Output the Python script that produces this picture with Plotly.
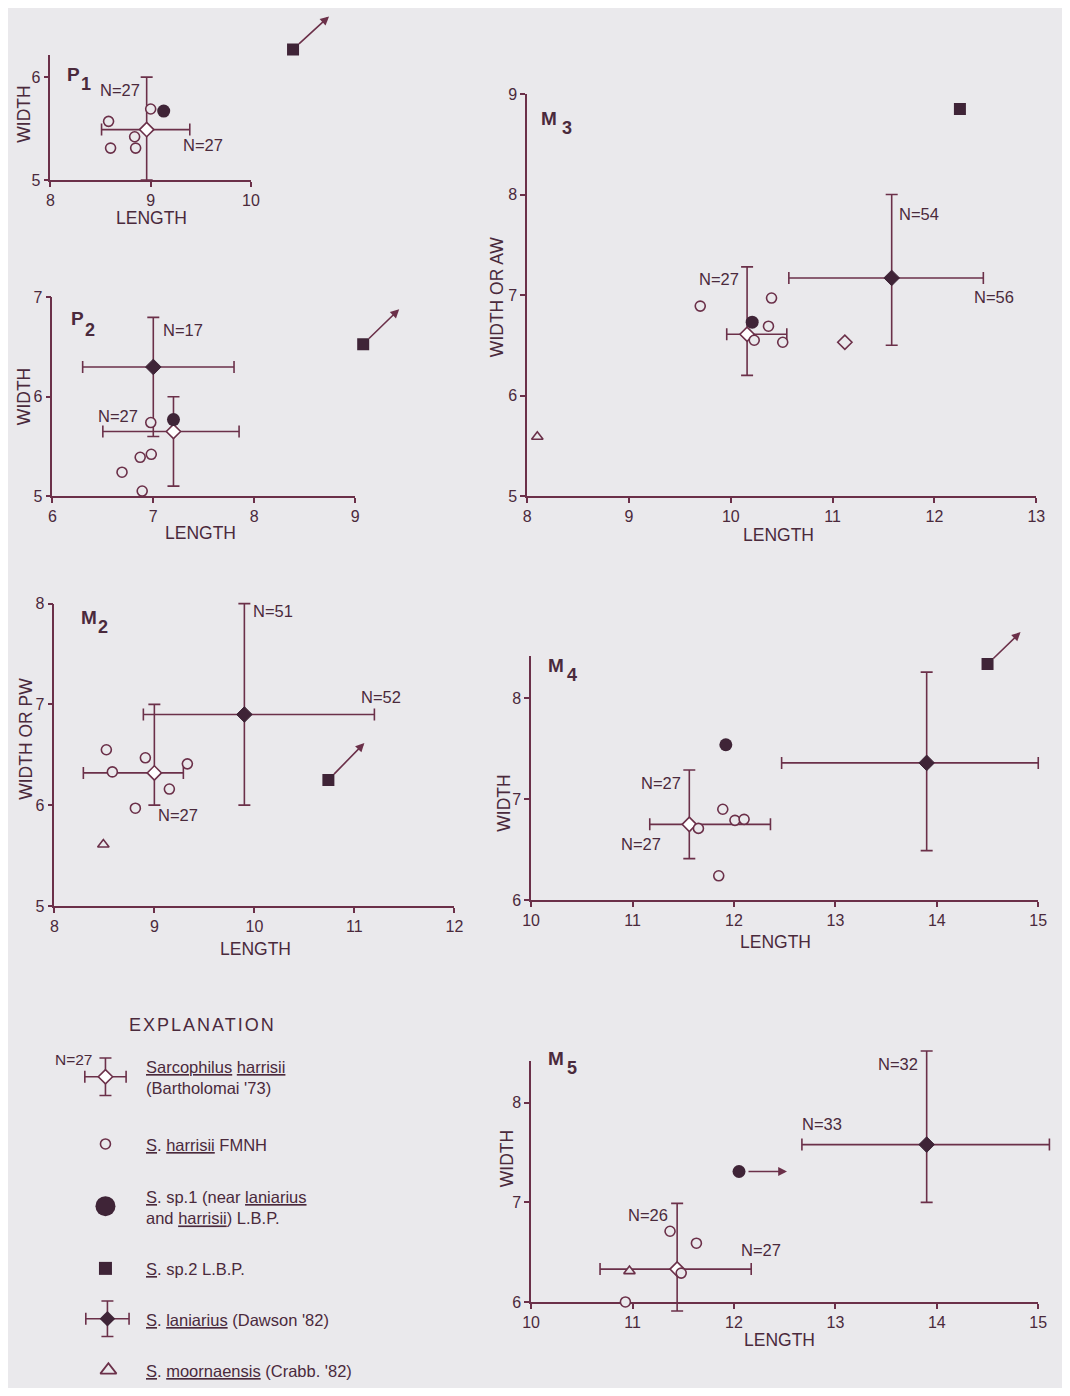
import plotly.graph_objects as go

PAGE_W, PAGE_H = 1070, 1396
OFF = 8                               # default page margin of the browser body
W, H = PAGE_W - 2 * OFF, PAGE_H - 2 * OFF
BG = '#eae9ec'
LINE = '#6b3049'
INK = '#3f2437'
TXT = '#4a2a3c'
FONT = 'Liberation Sans, Arial, sans-serif'

# ------------------------------------------------------------------ data
# P1
P1_FMNH_L = [8.58, 8.60, 8.84, 8.85, 9.00]
P1_FMNH_W = [5.57, 5.31, 5.42, 5.31, 5.69]
P1_SP1 = (9.13, 5.67)
P1_SP2 = (10.42, 6.27)
P1_BART = (8.96, 5.49)
P1_BART_LRANGE = (8.51, 9.39)
P1_BART_WRANGE = (5.00, 6.00)

# P2
P2_FMNH_L = [6.975, 6.98, 6.87, 6.69, 6.89]
P2_FMNH_W = [5.74, 5.42, 5.39, 5.24, 5.05]
P2_SP1 = (7.20, 5.77)
P2_SP2 = (9.08, 6.53)
P2_BART = (7.20, 5.65)
P2_BART_LRANGE = (6.50, 7.85)
P2_BART_WRANGE = (5.10, 6.00)
P2_LAN = (7.00, 6.30)
P2_LAN_LRANGE = (6.30, 7.80)
P2_LAN_WRANGE = (5.60, 6.80)

# M3
M3_FMNH_L = [9.70, 10.40, 10.37, 10.23, 10.51]
M3_FMNH_W = [6.89, 6.97, 6.69, 6.55, 6.53]
M3_SP1 = (10.21, 6.73)
M3_SP2 = (12.25, 8.85)
M3_BART = (10.16, 6.61)
M3_BART_LRANGE = (9.96, 10.55)
M3_BART_WRANGE = (6.20, 7.28)
M3_LAN = (11.58, 7.17)
M3_LAN_LRANGE = (10.57, 12.48)
M3_LAN_WRANGE = (6.50, 8.00)
M3_MOOR = (8.10, 5.59)
M3_EXTRA_DIAMOND = (11.12, 6.53)

# M2
M2_FMNH_L = [8.52, 8.58, 8.91, 9.33, 9.15, 8.81]
M2_FMNH_W = [6.55, 6.33, 6.47, 6.41, 6.16, 5.97]
M2_SP2 = (10.74, 6.25)
M2_BART = (9.00, 6.32)
M2_BART_LRANGE = (8.29, 9.29)
M2_BART_WRANGE = (6.00, 7.00)
M2_LAN = (9.90, 6.90)
M2_LAN_LRANGE = (8.89, 11.20)
M2_LAN_WRANGE = (6.00, 8.00)
M2_MOOR = (8.49, 5.61)

# M4
M4_FMNH_L = [11.89, 11.65, 12.01, 12.10, 11.85]
M4_FMNH_W = [6.90, 6.71, 6.79, 6.80, 6.24]
M4_SP1 = (11.92, 7.54)
M4_SP2 = (14.50, 8.34)
M4_BART = (11.56, 6.75)
M4_BART_LRANGE = (11.17, 12.36)
M4_BART_WRANGE = (6.41, 7.29)
M4_LAN = (13.90, 7.36)
M4_LAN_LRANGE = (12.47, 15.00)
M4_LAN_WRANGE = (6.49, 8.26)

# M5
M5_FMNH_L = [11.37, 11.63, 11.48, 10.93]
M5_FMNH_W = [6.71, 6.59, 6.29, 6.00]
M5_SP1 = (12.05, 7.31)
M5_BART = (11.44, 6.33)
M5_BART_LRANGE = (10.68, 12.17)
M5_BART_WRANGE = (5.91, 6.99)
M5_LAN = (13.90, 7.58)
M5_LAN_LRANGE = (12.67, 15.11)
M5_LAN_WRANGE = (7.00, 8.52)
M5_MOOR = (10.97, 6.31)

# ------------------------------------------------------------------ layout specs
# positions below are page pixels; fx/fy turn them into paper fractions
def fx(p):
    return (p - OFF) / W


def fy(p):
    return 1 - (p - OFF) / H


PANELS = [
    dict(n=1, sub='P', num='1', box=(42, 47, 246, 174), xr=[8, 10], yr=[5, 6.22],
         xt=[8, 9, 10], yt=[5, 6], ytitle='WIDTH', ytpos=(15, 107), xtpos=(145, 213),
         lab=((57, 55), (71, 65)),
         fmnh=(P1_FMNH_L, P1_FMNH_W), sp1=P1_SP1, sp2=P1_SP2, sp2arrow=(36, 33),
         bart=(P1_BART, P1_BART_LRANGE, P1_BART_WRANGE), lan=None, moor=None,
         nlab=[('N=27', 8.91, 5.875, 'right'), ('N=27', 9.30, 5.34, 'left')]),
    dict(n=2, sub='P', num='2', box=(44, 293, 352, 494), xr=[6, 9], yr=[5, 7],
         xt=[6, 7, 8, 9], yt=[5, 6, 7], ytitle='WIDTH', ytpos=(15, 393), xtpos=(195, 531),
         lab=((61, 302), (75, 314)),
         fmnh=(P2_FMNH_L, P2_FMNH_W), sp1=P2_SP1, sp2=P2_SP2, sp2arrow=(36, 35),
         bart=(P2_BART, P2_BART_LRANGE, P2_BART_WRANGE),
         lan=(P2_LAN, P2_LAN_LRANGE, P2_LAN_WRANGE), moor=None,
         nlab=[('N=17', 7.08, 6.67, 'left'), ('N=27', 6.87, 5.81, 'right')]),
    dict(n=3, sub='M', num='3', box=(527, 87, 1045, 494), xr=[8, 13], yr=[5, 9],
         xt=[8, 9, 10, 11, 12, 13], yt=[5, 6, 7, 8, 9], ytitle='WIDTH OR AW',
         ytpos=(497, 293), xtpos=(783, 533),
         lab=((549, 99), (568, 109)),
         fmnh=(M3_FMNH_L, M3_FMNH_W), sp1=M3_SP1, sp2=M3_SP2, sp2arrow=None,
         bart=(M3_BART, M3_BART_LRANGE, M3_BART_WRANGE),
         lan=(M3_LAN, M3_LAN_LRANGE, M3_LAN_WRANGE), moor=M3_MOOR,
         nlab=[('N=27', 10.10, 7.16, 'right'), ('N=54', 11.63, 7.81, 'left'),
               ('N=56', 12.58, 6.98, 'center')]),
    dict(n=4, sub='M', num='2', box=(46, 603, 453, 909), xr=[8, 12], yr=[5, 8],
         xt=[8, 9, 10, 11, 12], yt=[5, 6, 7, 8], ytitle='WIDTH OR PW',
         ytpos=(17, 740), xtpos=(251, 953),
         lab=((71, 617), (88, 627)),
         fmnh=(M2_FMNH_L, M2_FMNH_W), sp1=None, sp2=M2_SP2, sp2arrow=(36, 37),
         bart=(M2_BART, M2_BART_LRANGE, M2_BART_WRANGE),
         lan=(M2_LAN, M2_LAN_LRANGE, M2_LAN_WRANGE), moor=M2_MOOR,
         nlab=[('N=51', 9.97, 7.93, 'left'), ('N=52', 11.27, 7.07, 'center'),
               ('N=27', 9.02, 5.90, 'left')]),
    dict(n=5, sub='M', num='4', box=(531, 656, 1047, 903), xr=[10, 15], yr=[6, 8.42],
         xt=[10, 11, 12, 13, 14, 15], yt=[6, 7, 8], ytitle='WIDTH',
         ytpos=(504, 805), xtpos=(780, 946),
         lab=((556, 666), (573, 675)),
         fmnh=(M4_FMNH_L, M4_FMNH_W), sp1=M4_SP1, sp2=M4_SP2, sp2arrow=(33, 32),
         bart=(M4_BART, M4_BART_LRANGE, M4_BART_WRANGE),
         lan=(M4_LAN, M4_LAN_LRANGE, M4_LAN_WRANGE), moor=None,
         nlab=[('N=27', 11.50, 7.16, 'right'), ('N=27', 11.30, 6.56, 'right')]),
    dict(n=6, sub='M', num='5', box=(531, 1066, 1047, 1310), xr=[10, 15], yr=[6, 8.42],
         xt=[10, 11, 12, 13, 14, 15], yt=[6, 7, 8], ytitle='WIDTH',
         ytpos=(506, 1165), xtpos=(784, 1349),
         lab=((556, 1076), (573, 1085)),
         fmnh=(M5_FMNH_L, M5_FMNH_W), sp1=M5_SP1, sp2=None, sp2arrow=None,
         bart=(M5_BART, M5_BART_LRANGE, M5_BART_WRANGE),
         lan=(M5_LAN, M5_LAN_LRANGE, M5_LAN_WRANGE), moor=M5_MOOR,
         nlab=[('N=26', 11.37, 6.87, 'right'), ('N=27', 12.05, 6.52, 'left'),
               ('N=32', 13.83, 8.39, 'right'), ('N=33', 12.65, 7.79, 'left')]),
]
M5_SP1_ARROW = (48, 0)
PAD = dict(l=30, r=70, t=60, b=30)   # overlay plotting area beyond each axis box (px)

fig = go.Figure()
annotations = []
layout_axes = {}


def err(center, lo_hi):
    lo, hi = lo_hi
    return dict(type='data', symmetric=False, array=[hi - center], arrayminus=[center - lo],
                color=LINE, thickness=1.6, width=6)


for p in PANELS:
    n = p['n']
    on = n + 6                       # invisible overlay axis pair used for the marks
    xa = 'x' if n == 1 else f'x{n}'
    ya = 'y' if n == 1 else f'y{n}'
    xk = 'xaxis' if n == 1 else f'xaxis{n}'
    yk = 'yaxis' if n == 1 else f'yaxis{n}'
    oxa, oya = f'x{on}', f'y{on}'
    l, t, r, b = p['box']
    common = dict(showline=True, linecolor=LINE, linewidth=1.6, ticks='outside', ticklen=5,
                  tickwidth=1.5, tickcolor=LINE, showgrid=False, zeroline=False,
                  tickfont=dict(family=FONT, size=16, color=TXT), fixedrange=True)
    layout_axes[xk] = dict(common, domain=[fx(l), fx(r)], range=p['xr'], tickvals=p['xt'],
                           anchor=ya)
    layout_axes[yk] = dict(common, domain=[fy(b), fy(t)], range=p['yr'], tickvals=p['yt'],
                           anchor=xa)
    # empty trace so the visible axis pair gets drawn
    fig.add_trace(go.Scatter(x=[], y=[], mode='markers', xaxis=xa, yaxis=ya,
                             hoverinfo='skip', showlegend=False))
    # overlay axes: same scale, extended area so nothing gets clipped
    kx = (r - l) / (p['xr'][1] - p['xr'][0])
    ky = (b - t) / (p['yr'][1] - p['yr'][0])
    l2, r2 = max(OFF, l - PAD['l']), min(OFF + W, r + PAD['r'])
    t2, b2 = max(OFF, t - PAD['t']), min(OFF + H, b + PAD['b'])
    layout_axes[f'xaxis{on}'] = dict(domain=[fx(l2), fx(r2)], visible=False, fixedrange=True,
                                     range=[p['xr'][0] - (l - l2) / kx,
                                            p['xr'][1] + (r2 - r) / kx], anchor=oya)
    layout_axes[f'yaxis{on}'] = dict(domain=[fy(b2), fy(t2)], visible=False, fixedrange=True,
                                     range=[p['yr'][0] - (b2 - b) / ky,
                                            p['yr'][1] + (t - t2) / ky], anchor=oxa)

    # S. laniarius (Dawson '82)
    if p['lan']:
        (cx, cy), lr, wr = p['lan']
        fig.add_trace(go.Scatter(x=[cx], y=[cy], mode='markers', xaxis=oxa, yaxis=oya,
                                 marker=dict(symbol='diamond', size=12, color=INK,
                                             line=dict(color=INK, width=1)),
                                 error_x=err(cx, lr), error_y=err(cy, wr), showlegend=False))
    # Sarcophilus harrisii (Bartholomai '73)
    if p['bart']:
        (cx, cy), lr, wr = p['bart']
        fig.add_trace(go.Scatter(x=[cx], y=[cy], mode='markers', xaxis=oxa, yaxis=oya,
                                 marker=dict(symbol='diamond', size=11, color='white',
                                             line=dict(color=LINE, width=1.6)),
                                 error_x=err(cx, lr), error_y=err(cy, wr), showlegend=False))
    # S. harrisii FMNH
    fl, fw = p['fmnh']
    fig.add_trace(go.Scatter(x=fl, y=fw, mode='markers', xaxis=oxa, yaxis=oya,
                             marker=dict(symbol='circle', size=10, color=BG,
                                         line=dict(color=LINE, width=1.6)),
                             showlegend=False))
    if n == 3:
        fig.add_trace(go.Scatter(x=[M3_EXTRA_DIAMOND[0]], y=[M3_EXTRA_DIAMOND[1]],
                                 mode='markers', xaxis=oxa, yaxis=oya,
                                 marker=dict(symbol='diamond', size=11, color=BG,
                                             line=dict(color=LINE, width=1.6)),
                                 showlegend=False))
    # S. sp.1
    if p['sp1']:
        fig.add_trace(go.Scatter(x=[p['sp1'][0]], y=[p['sp1'][1]], mode='markers',
                                 xaxis=oxa, yaxis=oya,
                                 marker=dict(symbol='circle', size=13, color=INK),
                                 showlegend=False))
    # S. sp.2
    if p['sp2']:
        fig.add_trace(go.Scatter(x=[p['sp2'][0]], y=[p['sp2'][1]], mode='markers',
                                 xaxis=oxa, yaxis=oya,
                                 marker=dict(symbol='square', size=12, color=INK),
                                 showlegend=False))
        if p['sp2arrow']:
            dx, dy = p['sp2arrow']
            annotations.append(dict(x=p['sp2'][0], y=p['sp2'][1], xref=oxa, yref=oya,
                                    xshift=dx, yshift=dy, ax=-dx, ay=dy, text='',
                                    showarrow=True, arrowhead=2, arrowsize=1.1,
                                    arrowwidth=1.6, arrowcolor=LINE, startstandoff=6))
    # S. moornaensis
    if p['moor']:
        fig.add_trace(go.Scatter(x=[p['moor'][0]], y=[p['moor'][1]], mode='markers',
                                 xaxis=oxa, yaxis=oya,
                                 marker=dict(symbol='triangle-up', size=10, color=BG,
                                             line=dict(color=LINE, width=1.6)),
                                 showlegend=False))
    if n == 6:
        dx, dy = M5_SP1_ARROW
        annotations.append(dict(x=M5_SP1[0], y=M5_SP1[1], xref=oxa, yref=oya,
                                xshift=dx, yshift=dy, ax=-dx, ay=dy, text='',
                                showarrow=True, arrowhead=2, arrowsize=1.1,
                                arrowwidth=1.6, arrowcolor=LINE, startstandoff=8))

    # N labels
    for txt, lx, ly, anc in p['nlab']:
        annotations.append(dict(x=lx, y=ly, xref=oxa, yref=oya, text=txt, showarrow=False,
                                xanchor=anc, yanchor='middle',
                                font=dict(family=FONT, size=16.5, color=TXT)))
    # axis titles
    annotations.append(dict(x=fx(p['ytpos'][0]), y=fy(p['ytpos'][1]), xref='paper',
                            yref='paper', text=p['ytitle'], textangle=-90, showarrow=False,
                            xanchor='center', yanchor='middle',
                            font=dict(family=FONT, size=17.5, color=TXT)))
    annotations.append(dict(x=fx(p['xtpos'][0]), y=fy(p['xtpos'][1]), xref='paper',
                            yref='paper', text='LENGTH', showarrow=False,
                            xanchor='center', yanchor='middle',
                            font=dict(family=FONT, size=17.5, color=TXT)))
    # panel label
    (lx, ly), (nx, ny) = p['lab']
    annotations.append(dict(x=fx(lx), y=fy(ly), xref='paper', yref='paper',
                            text=f"<b>{p['sub']}</b>", showarrow=False,
                            font=dict(family=FONT, size=19, color=TXT)))
    annotations.append(dict(x=fx(nx), y=fy(ny), xref='paper', yref='paper',
                            text=f"<b>{p['num']}</b>", showarrow=False,
                            font=dict(family=FONT, size=18, color=TXT)))

# ------------------------------------------------------------------ explanation (key)
KEY_X = 98
KEY_ROWS_Y = [1082, 1150, 1213, 1276, 1327, 1379]
KEY_TEXT_X = 137
layout_axes['xaxis13'] = dict(domain=[0, 1], range=[OFF, OFF + W], visible=False,
                              fixedrange=True, anchor='y13')
layout_axes['yaxis13'] = dict(domain=[0, 1], range=[OFF + H, OFF], visible=False,
                              fixedrange=True, anchor='x13')

sym_err = lambda v: dict(type='data', array=[v], color=LINE, thickness=1.6, width=6)
kw = dict(mode='markers', xaxis='x13', yaxis='y13', showlegend=False)
fig.add_trace(go.Scatter(x=[KEY_X], y=[KEY_ROWS_Y[0]],
                         marker=dict(symbol='diamond', size=11, color='white',
                                     line=dict(color=LINE, width=1.6)),
                         error_x=sym_err(21), error_y=sym_err(19), **kw))
fig.add_trace(go.Scatter(x=[KEY_X], y=[KEY_ROWS_Y[1]],
                         marker=dict(symbol='circle', size=10, color=BG,
                                     line=dict(color=LINE, width=1.6)), **kw))
fig.add_trace(go.Scatter(x=[KEY_X], y=[KEY_ROWS_Y[2]],
                         marker=dict(symbol='circle', size=20, color=INK), **kw))
fig.add_trace(go.Scatter(x=[KEY_X], y=[KEY_ROWS_Y[3]],
                         marker=dict(symbol='square', size=13, color=INK), **kw))
fig.add_trace(go.Scatter(x=[KEY_X + 2], y=[KEY_ROWS_Y[4]],
                         marker=dict(symbol='diamond', size=12, color=INK),
                         error_x=sym_err(22), error_y=sym_err(18), **kw))
fig.add_trace(go.Scatter(x=[KEY_X + 3], y=[KEY_ROWS_Y[5]],
                         marker=dict(symbol='triangle-up', size=14, color=BG,
                                     line=dict(color=LINE, width=1.8)), **kw))

KEY_LABELS = [
    "<u>Sarcophilus</u> <u>harrisii</u><br>(Bartholomai '73)",
    "<u>S</u>. <u>harrisii</u> FMNH",
    "<u>S</u>. sp.1 (near <u>laniarius</u><br>and <u>harrisii</u>) L.B.P.",
    "<u>S</u>. sp.2 L.B.P.",
    "<u>S</u>. <u>laniarius</u> (Dawson '82)",
    "<u>S</u>. <u>moornaensis</u> (Crabb. '82)",
]
for lbl, ry in zip(KEY_LABELS, KEY_ROWS_Y):
    annotations.append(dict(x=fx(KEY_TEXT_X), y=fy(ry + 1), xref='paper', yref='paper',
                            text=lbl, showarrow=False, xanchor='left', yanchor='middle',
                            align='left', font=dict(family=FONT, size=16.5, color=TXT)))
annotations.append(dict(x=fx(87), y=fy(1065), xref='paper', yref='paper', text='N=27',
                        showarrow=False, xanchor='right', yanchor='middle',
                        font=dict(family=FONT, size=15.5, color=TXT)))
annotations.append(dict(x=fx(197), y=fy(1030), xref='paper', yref='paper',
                        text="<span style='letter-spacing:2px'>EXPLANATION</span>",
                        showarrow=False, xanchor='center', yanchor='middle',
                        font=dict(family=FONT, size=18, color=TXT)))

fig.update_layout(width=W, height=H, margin=dict(l=0, r=0, t=0, b=0),
                  paper_bgcolor=BG, plot_bgcolor='rgba(0,0,0,0)',
                  annotations=annotations, showlegend=False, **layout_axes)

fig.write_html('out.html', config={'displayModeBar': False})
